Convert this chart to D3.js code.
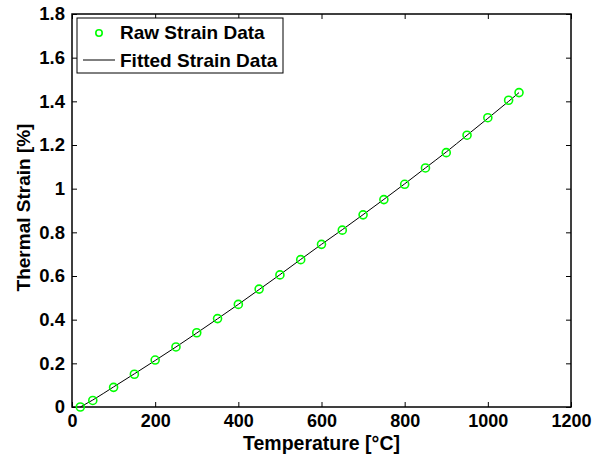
<!DOCTYPE html>
<html>
<head>
<meta charset="utf-8">
<script src="https://cdn.jsdelivr.net/npm/d3@7"></script>
<style>
  body { margin: 0; background: #fff; }
  svg text { font-family: "Liberation Sans", Arial, sans-serif; font-weight: bold; fill: #000; }
</style>
</head>
<body>
<div id="chart"></div>
<script>
const temperature = [20, 50, 100, 150, 200, 250, 300, 350, 400, 450, 500, 550, 600, 650, 700, 750, 800, 850, 900, 950, 1000, 1050, 1075];
const rawStrain = [0, 0.03, 0.09, 0.15, 0.215, 0.275, 0.34, 0.405, 0.47, 0.54, 0.605, 0.675, 0.745, 0.81, 0.88, 0.95, 1.02, 1.095, 1.165, 1.245, 1.325, 1.405, 1.44];
const fittedStrain = [0, 0.032, 0.092, 0.152, 0.213, 0.275, 0.339, 0.404, 0.47, 0.538, 0.606, 0.676, 0.745, 0.812, 0.881, 0.951, 1.022, 1.095, 1.168, 1.245, 1.322, 1.4, 1.44];
const xTicks = [0, 200, 400, 600, 800, 1000, 1200];
const yTicks = [0, 0.2, 0.4, 0.6, 0.8, 1, 1.2, 1.4, 1.6, 1.8];
const legendLabels = ["Raw Strain Data", "Fitted Strain Data"];

const width = 601, height = 454;
const margin = { top: 14, right: 30, bottom: 47, left: 72 };

const svg = d3.select("#chart").append("svg")
  .attr("width", width)
  .attr("height", height);

const x = d3.scaleLinear().domain([0, 1200]).range([margin.left, width - margin.right]);
const y = d3.scaleLinear().domain([0, 1.8]).range([height - margin.bottom, margin.top]);

const fmt = (d) => String(d);

// axes with inward ticks, mirrored on top/right
svg.append("g")
  .attr("transform", `translate(0,${y(0)})`)
  .call(d3.axisBottom(x).tickValues(xTicks).tickFormat(fmt).tickSizeInner(-5).tickSizeOuter(0).tickPadding(7))
  .call((g) => g.select(".domain").remove())
  .call((g) => g.selectAll("text").attr("font-size", 18));

svg.append("g")
  .attr("transform", `translate(0,${y(1.8)})`)
  .call(d3.axisTop(x).tickValues(xTicks).tickFormat("").tickSizeInner(-5).tickSizeOuter(0))
  .call((g) => g.select(".domain").remove());

svg.append("g")
  .attr("transform", `translate(${x(0)},0)`)
  .call(d3.axisLeft(y).tickValues(yTicks).tickFormat(fmt).tickSizeInner(-5).tickSizeOuter(0).tickPadding(7))
  .call((g) => g.select(".domain").remove())
  .call((g) => g.selectAll("text").attr("font-size", 18.5));

svg.append("g")
  .attr("transform", `translate(${x(1200)},0)`)
  .call(d3.axisRight(y).tickValues(yTicks).tickFormat("").tickSizeInner(-5).tickSizeOuter(0))
  .call((g) => g.select(".domain").remove());

svg.selectAll(".tick line").attr("stroke", "#000").attr("stroke-width", 1);

svg.append("rect")
  .attr("x", x(0)).attr("y", y(1.8))
  .attr("width", x(1200) - x(0)).attr("height", y(0) - y(1.8))
  .attr("fill", "none").attr("stroke", "#000").attr("stroke-width", 1.5);

// fitted line
const line = d3.line().x((d, i) => x(temperature[i])).y((d) => y(d)).curve(d3.curveMonotoneX);
svg.append("path")
  .datum(fittedStrain)
  .attr("d", line)
  .attr("fill", "none")
  .attr("stroke", "#000")
  .attr("stroke-width", 1);

// raw points
svg.append("g")
  .selectAll("circle")
  .data(rawStrain)
  .join("circle")
  .attr("cx", (d, i) => x(temperature[i]))
  .attr("cy", (d) => y(d))
  .attr("r", 4)
  .attr("fill", "none")
  .attr("stroke", "#00ff00")
  .attr("stroke-width", 1.6);

// axis labels
svg.append("text")
  .attr("x", x(600)).attr("y", 450)
  .attr("text-anchor", "middle")
  .attr("font-size", 19.5)
  .text("Temperature [°C]");

svg.append("text")
  .attr("transform", `translate(30,${y(0.9) - 3}) rotate(-90)`)
  .attr("text-anchor", "middle")
  .attr("font-size", 19)
  .text("Thermal Strain [%]");

// legend
const legend = svg.append("g").attr("transform", "translate(77,18)");
legend.append("rect")
  .attr("width", 206).attr("height", 55)
  .attr("fill", "#fff").attr("stroke", "#000").attr("stroke-width", 1);
legend.append("circle")
  .attr("cx", 22).attr("cy", 15).attr("r", 3.2)
  .attr("fill", "none").attr("stroke", "#00ff00").attr("stroke-width", 1.6);
legend.append("line")
  .attr("x1", 6).attr("x2", 38).attr("y1", 42).attr("y2", 42)
  .attr("stroke", "#000").attr("stroke-width", 1);
legend.selectAll("text.lbl")
  .data(legendLabels)
  .join("text")
  .attr("class", "lbl")
  .attr("x", 43)
  .attr("y", (d, i) => 21 + i * 28)
  .attr("font-size", 19)
  .text((d) => d);
</script>
</body>
</html>
